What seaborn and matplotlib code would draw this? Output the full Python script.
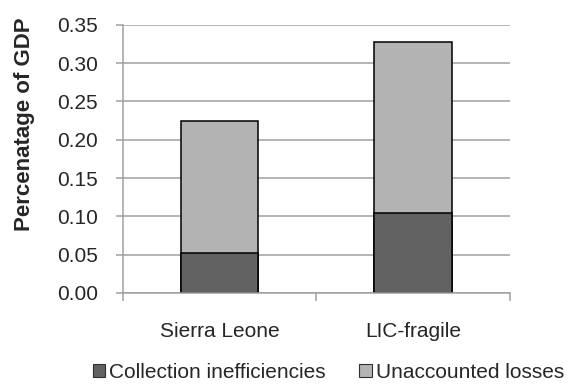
import matplotlib
matplotlib.use('Agg')
import matplotlib.pyplot as plt
from matplotlib.patches import Patch
import seaborn as sns
import pandas as pd

# ── Data ───────────────────────────────────────────────────────────────────────
countries = ['Sierra Leone', 'LIC-fragile']
collection = [0.052, 0.104]      # Collection inefficiencies
unaccounted = [0.172, 0.223]     # Unaccounted losses
series_names = ['Collection inefficiencies', 'Unaccounted losses']
y_ticks = [0.00, 0.05, 0.10, 0.15, 0.20, 0.25, 0.30, 0.35]

DARK = '#626262'
LIGHT = '#b3b3b3'
GRID = '#a0a0a0'

# ── Style ──────────────────────────────────────────────────────────────────────
sns.set_theme(style='white')
plt.rcParams['font.family'] = ['Liberation Sans', 'DejaVu Sans']

df = pd.DataFrame({'country': countries,
                   'collection': collection,
                   'unaccounted': unaccounted})
df['total'] = df['collection'] + df['unaccounted']

fig, ax = plt.subplots(figsize=(5.69, 3.88), dpi=100)
fig.subplots_adjust(left=0.216, right=0.896, top=0.936, bottom=0.245)

# stacked: draw totals (light) then the bottom segment (dark) over it
sns.barplot(data=df, x='country', y='total', color=LIGHT, saturation=1,
            width=0.4, edgecolor='black', linewidth=1.1, errorbar=None, ax=ax)
sns.barplot(data=df, x='country', y='collection', color=DARK, saturation=1,
            width=0.4, edgecolor='black', linewidth=1.1, errorbar=None, ax=ax)

ax.set_xlim(-0.5, 1.5)
ax.set_ylim(0, 0.35)
ax.set_yticks(y_ticks)
ax.set_yticklabels([f'{v:.2f}' for v in y_ticks])
ax.yaxis.grid(True, color=GRID, linewidth=1.1)
ax.set_axisbelow(True)

for s in ['top', 'right']:
    ax.spines[s].set_visible(False)
for s in ['left', 'bottom']:
    ax.spines[s].set_color(GRID)
    ax.spines[s].set_linewidth(1.1)

ax.tick_params(axis='y', which='major', direction='out', length=5, width=1.1,
               color=GRID, pad=13, labelsize=15, left=True)
ax.tick_params(axis='x', which='major', length=0, pad=21, labelsize=15)
ax.set_xticks([-0.5, 0.5, 1.5], minor=True)
ax.tick_params(axis='x', which='minor', direction='out', length=6, width=1.1,
               color=GRID, bottom=True)

ax.set_xlabel('')
ax.set_ylabel('Percenatage of GDP', fontsize=16, fontweight='bold')
ax.yaxis.set_label_coords(-0.227, 0.63)

handles = [Patch(facecolor=DARK, edgecolor='#303030', linewidth=0.8),
           Patch(facecolor=LIGHT, edgecolor='#303030', linewidth=0.8)]
fig.legend(handles, series_names, loc='center', bbox_to_anchor=(0.577, 0.04),
           ncol=2, frameon=False, fontsize=15, handlelength=0.6,
           handleheight=0.6, handletextpad=0.2, columnspacing=1.6)

fig.savefig('out.png', dpi=100)
plt.close()
